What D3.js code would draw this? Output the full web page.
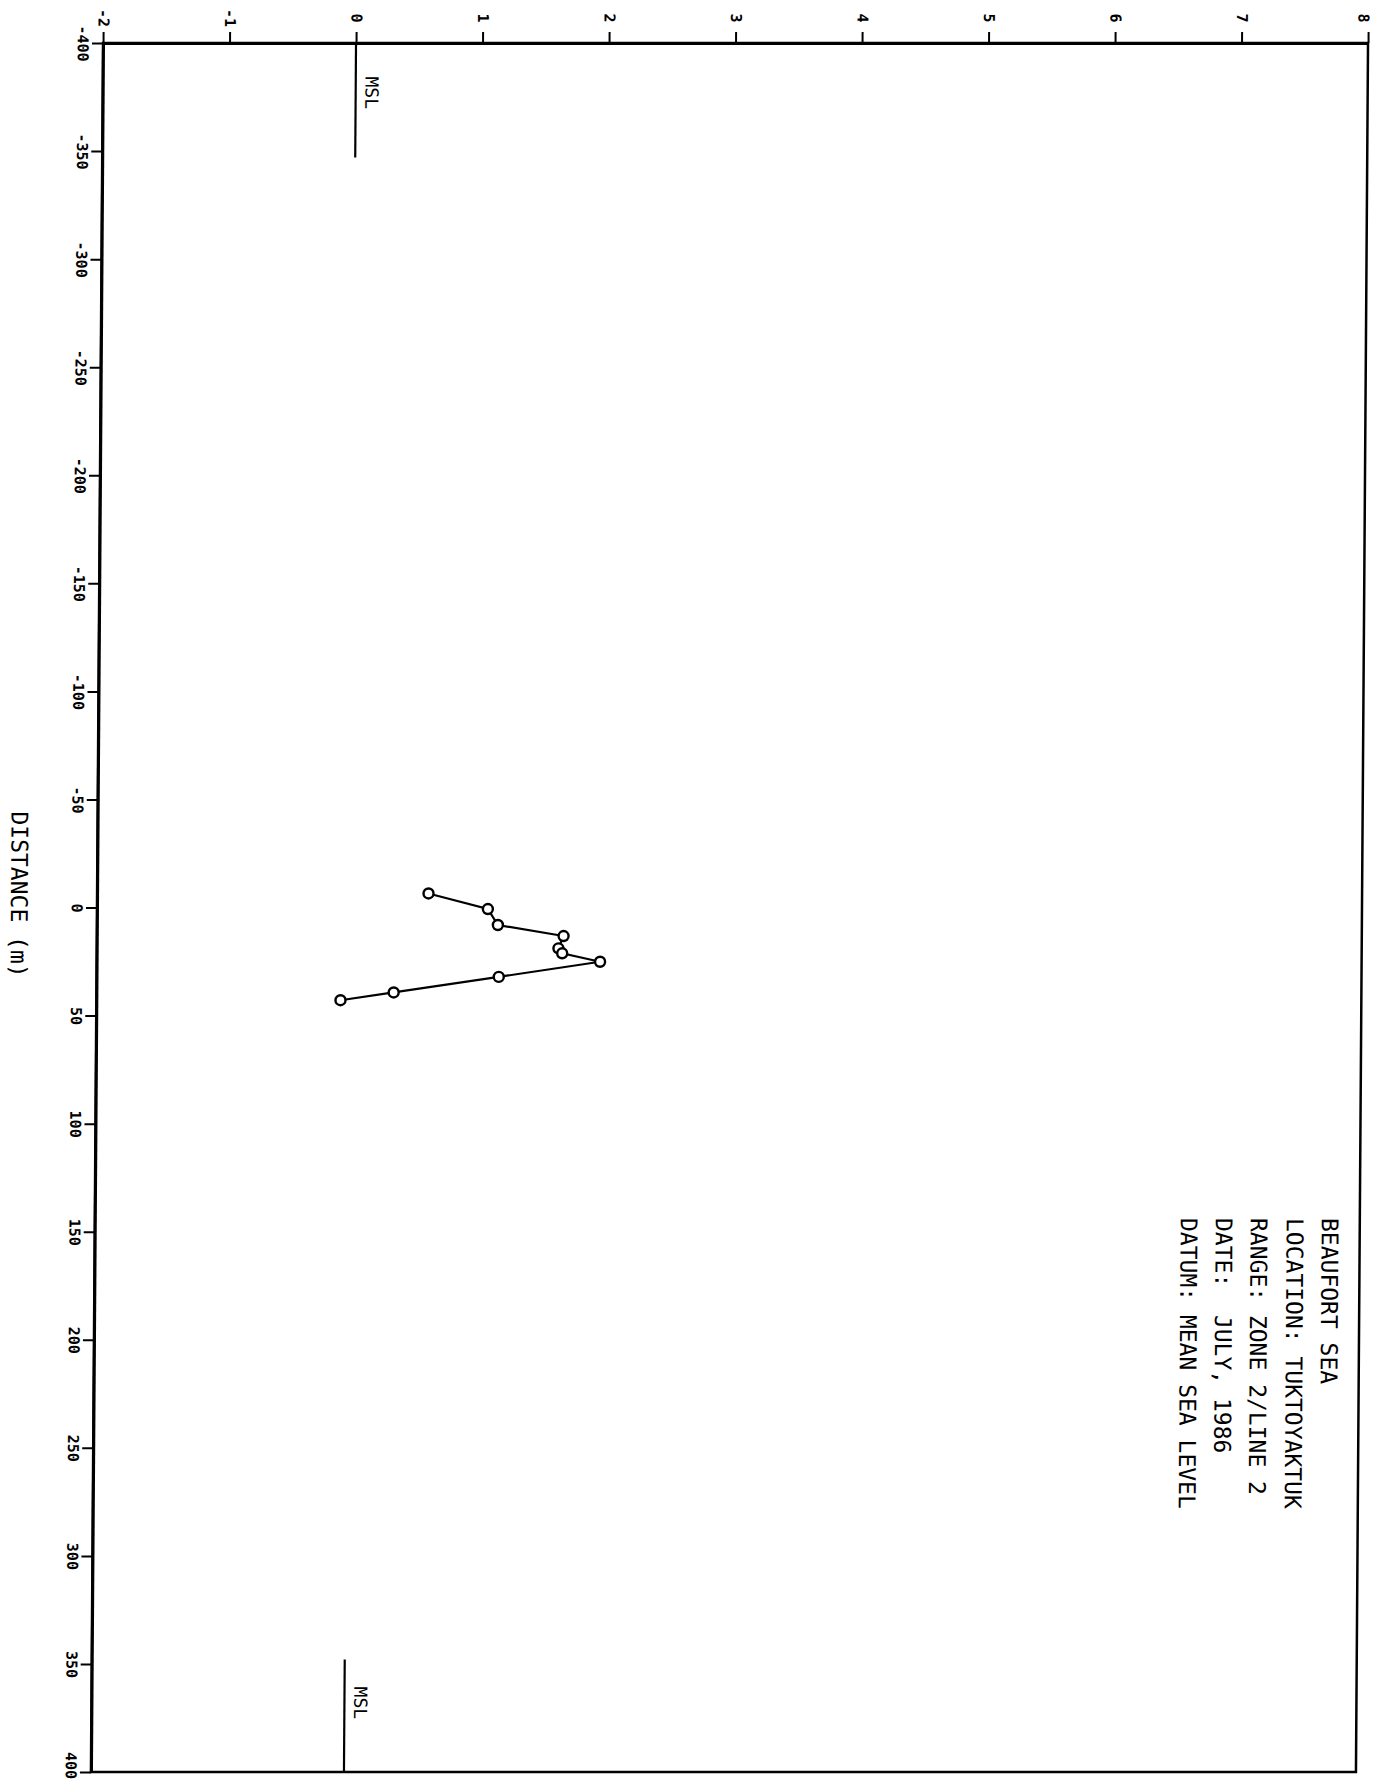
<!DOCTYPE html>
<html>
<head>
<meta charset="utf-8">
<script src="https://cdn.jsdelivr.net/npm/d3@7"></script>
<style>
  body { margin: 0; background: #fff; }
  text { font-family: "DejaVu Sans Mono", "Liberation Mono", monospace; fill: #000; }
</style>
</head>
<body>
<svg id="chart" width="1374" height="1783"></svg>
<script>
// Beach profile, Tuktoyaktuk zone 2 / line 2 (July 1986), plotted sideways:
// elevation runs along the top, distance runs down the page.
const elevationTicks = [-2, -1, 0, 1, 2, 3, 4, 5, 6, 7, 8];
const distanceTicks = [-400, -350, -300, -250, -200, -150, -100, -50, 0, 50, 100, 150, 200, 250, 300, 350, 400];

const profileDistance  = [-6.5, 0.7, 8.1, 13.2, 18.9, 21.2, 25.1, 32.1, 39.3, 42.9];
const profileElevation = [0.62, 1.09, 1.17, 1.69, 1.65, 1.68, 1.98, 1.18, 0.35, -0.07];

// Mean-sea-level reference stubs at each end of the section
const mslFrom = [-400, 348];
const mslTo   = [-347, 400];
const mslLabelAt = [-377, 368];

const legendLines = [
  "BEAUFORT SEA",
  "LOCATION: TUKTOYAKTUK",
  "RANGE: ZONE 2/LINE 2",
  "DATE:  JULY, 1986",
  "DATUM: MEAN SEA LEVEL"
];
const axisTitle = "DISTANCE (m)";

const svg = d3.select("#chart");
const W = 1374, H = 1783;
const plotLeft = 97, plotRight = 1362, plotTop = 43, plotBottom = 1772, midY = 906;

const x = d3.scaleLinear().domain([-2, 8]).range([plotLeft, plotRight]);     // elevation (m)
const y = d3.scaleLinear().domain([-400, 400]).range([plotTop, plotBottom]); // distance (m)

// the plotter sheet sits slightly sheared
const g = svg.append("g")
  .attr("transform", `translate(0,${midY}) skewX(-0.4) translate(0,${-midY})`);

// frame
g.append("rect")
  .attr("x", plotLeft).attr("y", plotTop)
  .attr("width", plotRight - plotLeft).attr("height", plotBottom - plotTop)
  .attr("fill", "none").attr("stroke", "#000").attr("stroke-width", 2.5);

const tickFont = sel => sel
  .attr("x", 0).attr("y", 0).attr("dy", "0.35em")
  .attr("text-anchor", "middle")
  .style("font-size", "15px").style("font-weight", "bold")
  .style("font-family", "'DejaVu Sans Mono', monospace");

// elevation axis along the top
const topAxis = g.append("g")
  .attr("transform", `translate(0,${plotTop})`)
  .call(d3.axisTop(x).tickValues(elevationTicks).tickSize(11).tickSizeOuter(0)
        .tickFormat(d => String(d)));
topAxis.select(".domain").attr("stroke-width", 3);
topAxis.selectAll(".tick line").attr("stroke-width", 2);
topAxis.selectAll(".tick text")
  .call(tickFont)
  // keep the last label clear of the sheet edge
  .attr("transform", d => `translate(${d === 8 ? -5 : 0},-25) rotate(90)`);

// distance axis down the left side
const leftAxis = g.append("g")
  .attr("transform", `translate(${plotLeft},0)`)
  .call(d3.axisLeft(y).tickValues(distanceTicks).tickSize(11).tickSizeOuter(0)
        .tickFormat(d => String(d)));
leftAxis.select(".domain").attr("stroke-width", 3);
leftAxis.selectAll(".tick line").attr("stroke-width", 2);
leftAxis.selectAll(".tick text")
  .call(tickFont)
  .attr("transform", d => {
    // pull the bottom label up so it stays on the sheet
    const shift = Math.min(0, (H - 3) - (y(d) + 15));
    return `translate(-20,${shift}) rotate(90)`;
  });

// axis title
g.append("text")
  .attr("transform", `translate(19,${y(-6)}) rotate(90)`)
  .attr("text-anchor", "middle").attr("dy", "0.35em")
  .style("font-size", "23px")
  .text(axisTitle);

// MSL stubs
mslFrom.forEach((d0, i) => {
  g.append("line")
    .attr("x1", x(0)).attr("x2", x(0))
    .attr("y1", y(d0)).attr("y2", y(mslTo[i]))
    .attr("stroke", "#000").attr("stroke-width", 2.2);
  g.append("text")
    .attr("transform", `translate(${x(0) + 16},${y(mslLabelAt[i])}) rotate(90)`)
    .attr("text-anchor", "middle").attr("dy", "0.35em")
    .style("font-size", "18px")
    .text("MSL");
});

// profile
const pts = profileDistance.map((d, i) => [profileElevation[i], d]);
g.append("path")
  .datum(pts)
  .attr("fill", "none").attr("stroke", "#000").attr("stroke-width", 2.2)
  .attr("d", d3.line().x(p => x(p[0])).y(p => y(p[1])));
g.selectAll("circle.pt")
  .data(pts).join("circle").attr("class", "pt")
  .attr("cx", p => x(p[0])).attr("cy", p => y(p[1]))
  .attr("r", 5).attr("fill", "#fff").attr("stroke", "#000").attr("stroke-width", 2.4);

// legend block
const legendX = [1332, 1297, 1261, 1226, 1191];
legendLines.forEach((t, i) => {
  g.append("text")
    .attr("transform", `translate(${legendX[i]},1218) rotate(90)`)
    .attr("dy", "0.35em")
    .attr("xml:space", "preserve")
    .style("white-space", "pre")
    .style("font-size", "23px")
    .text(t);
});
</script>
</body>
</html>
